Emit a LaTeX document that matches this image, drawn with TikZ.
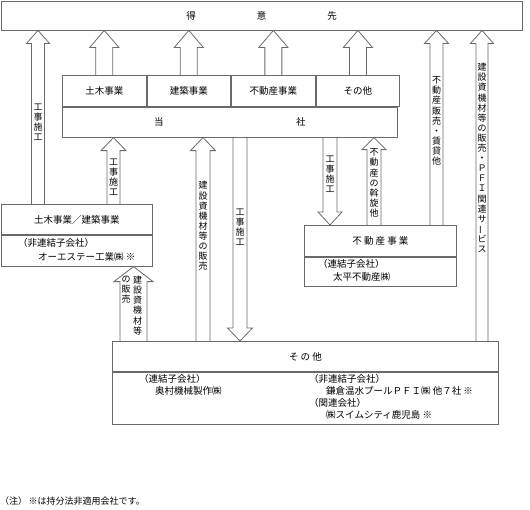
\documentclass[tikz,border=0pt]{standalone}
\usepackage{fontspec}
\newfontfamily\jp{Noto Sans CJK JP}
\usepackage{tikz}
\usetikzlibrary{positioning}
\definecolor{linegray}{RGB}{105, 105, 105}
\tikzset{
    box/.style={draw=linegray, line width=0.8pt, inner sep=0pt, font=\jp\fontsize{9.5}{11}\selectfont},
    note/.style={anchor=west, inner sep=0pt, font=\jp\fontsize{9.5}{11}\selectfont},
    vlabel/.style={align=center, inner sep=0pt, font=\jp\fontsize{9}{10.1}\selectfont},
    blk/.style={draw=linegray, line width=0.8pt, line join=miter}
}
% block arrows: axis, base anchor, tip anchor, shaft half width, head half width, head length
\newcommand{\blkup}[6]{%
    \draw[blk] ([xshift=-#4pt]#1 |- #2) -- ([xshift=-#4pt, yshift=-#6pt]#1 |- #3)
        -- ([xshift=-#5pt, yshift=-#6pt]#1 |- #3) -- (#1 |- #3)
        -- ([xshift=#5pt, yshift=-#6pt]#1 |- #3) -- ([xshift=#4pt, yshift=-#6pt]#1 |- #3)
        -- ([xshift=#4pt]#1 |- #2);}
\newcommand{\blkdown}[6]{%
    \draw[blk] ([xshift=-#4pt]#1 |- #2) -- ([xshift=-#4pt, yshift=#6pt]#1 |- #3)
        -- ([xshift=-#5pt, yshift=#6pt]#1 |- #3) -- (#1 |- #3)
        -- ([xshift=#5pt, yshift=#6pt]#1 |- #3) -- ([xshift=#4pt, yshift=#6pt]#1 |- #3)
        -- ([xshift=#4pt]#1 |- #2);}

\begin{document}
\begin{tikzpicture}[x=1pt, y=-1pt]
    \useasboundingbox (0,0) rectangle (530,509);

    % customers
    \node[box, minimum width=521pt, minimum height=29pt] (tokui) at (261.5,15.5) {得\hspace{61pt}意\hspace{61pt}先};

    % company with its segments
    \node[box, anchor=north west, minimum width=83.75pt, minimum height=31pt] (seg1) at (62,75) {土木事業};
    \node[box, minimum width=83.75pt, minimum height=31pt, right=0pt of seg1] (seg2) {建築事業};
    \node[box, minimum width=83.75pt, minimum height=31pt, right=0pt of seg2] (seg3) {不動産事業};
    \node[box, minimum width=83.75pt, minimum height=31pt, right=0pt of seg3] (seg4) {その他};
    \node[box, anchor=north west, minimum width=335pt, minimum height=30pt] (tosha) at (seg1.south west) {当\hspace{132.5pt}社};

    % civil / building
    \node[box, anchor=north west, minimum width=151pt, minimum height=30pt] (leftT) at (1,204) {土木事業／建築事業};
    \node[box, anchor=north west, minimum width=151pt, minimum height=31pt] (leftB) at (leftT.south west) {};
    \node[note] (leftN1) at (18,243) {（非連結子会社）};
    \node[note] (leftN2) at (38,257) {オーエステー工業㈱ ※};

    % real estate
    \node[box, anchor=north west, minimum width=152pt, minimum height=31pt] (fudoT) at (304,225) {不 動 産 事 業};
    \node[box, anchor=north west, minimum width=152pt, minimum height=29pt] (fudoB) at (fudoT.south west) {};
    \node[note] (fudoN1) at (318,264) {（連結子会社）};
    \node[note] (fudoN2) at (333,277) {太平不動産㈱};

    % others
    \node[box, anchor=north west, minimum width=386pt, minimum height=30pt] (sonoT) at (112,341) {そ の 他};
    \node[box, anchor=north west, minimum width=386pt, minimum height=52pt] (sonoB) at (sonoT.south west) {};
    \node[note] (sonoN1) at (139,379) {（連結子会社）};
    \node[note] (sonoN2) at (155,391) {奥村機械製作㈱};
    \node[note] (sonoN3) at (309,379) {（非連結子会社）};
    \node[note] (sonoN4) at (326,391) {鎌倉温水プールＰＦＩ㈱ 他７社 ※};
    \node[note] (sonoN5) at (309,403) {（関連会社）};
    \node[note] (sonoN6) at (326,415) {㈱スイムシティ鹿児島 ※};

    % arrow axes
    \coordinate (axA) at (38,0);
    \coordinate (axB) at (436.5,0);
    \coordinate (axC) at (482,0);
    \coordinate (axD) at (113.5,0);
    \coordinate (axE) at (133.5,0);
    \coordinate (axF) at (203,0);
    \coordinate (axG) at (240,0);
    \coordinate (axH) at (330,0);
    \coordinate (axI) at (374,0);

    \blkup{seg1}{seg1.north}{tokui.south}{8.5}{14.5}{17}
    \blkup{seg2}{seg2.north}{tokui.south}{8.5}{14.5}{17}
    \blkup{seg3}{seg3.north}{tokui.south}{8.5}{14.5}{17}
    \blkup{seg4}{seg4.north}{tokui.south}{8.5}{14.5}{17}
    \blkup{axA}{leftT.north}{tokui.south}{6.5}{11.5}{13}
    \blkup{axB}{fudoT.north}{tokui.south}{6.5}{12}{13}
    \blkup{axC}{sonoT.north}{tokui.south}{6}{11.5}{13}
    \blkup{axD}{leftT.north}{tosha.south}{6.5}{12.5}{13}
    \blkup{axE}{sonoT.north}{leftB.south}{13.5}{19.5}{15}
    \blkup{axF}{sonoT.north}{tosha.south}{7}{12.5}{13}
    \blkdown{axG}{tosha.south}{sonoT.north}{7}{12.5}{13}
    \blkdown{axH}{tosha.south}{fudoT.north}{7}{12}{13}
    \blkup{axI}{fudoT.north}{tosha.south}{7}{12}{12}

    % arrow labels
    \node[vlabel] (labA) at (38,122) {工\\事\\施\\工};
    \node[vlabel] (labB) at (436.5,121) {不\\動\\産\\販\\売\\・\\賃\\貸\\他};
    \node[vlabel] (labC) at (482,158) {建\\設\\資\\機\\材\\等\\の\\販\\売\\・\\Ｐ\\Ｆ\\Ｉ\\関\\連\\サ\\\rotatebox[origin=c]{90}{ー}\\ビ\\ス};
    \node[vlabel] (labD) at (113.5,177) {工\\事\\施\\工};
    \node[vlabel, anchor=north] (labE1) at (137.5,276) {建\\設\\資\\機\\材\\等};
    \node[vlabel, anchor=north] (labE2) at (126,276) {の\\販\\売};
    \node[vlabel] (labF) at (203,226) {建\\設\\資\\機\\材\\等\\の\\販\\売};
    \node[vlabel] (labG) at (240,227) {工\\事\\施\\工};
    \node[vlabel] (labH) at (330,174) {工\\事\\施\\工};
    \node[vlabel] (labI) at (374,183) {不\\動\\産\\の\\斡\\旋\\他};

    % footnote
    \node[note, font=\jp\fontsize{9}{11}\selectfont] (foot) at (0,501) {（注）\hspace{1.5pt}※は持分法非適用会社です。};
\end{tikzpicture}
\end{document}
